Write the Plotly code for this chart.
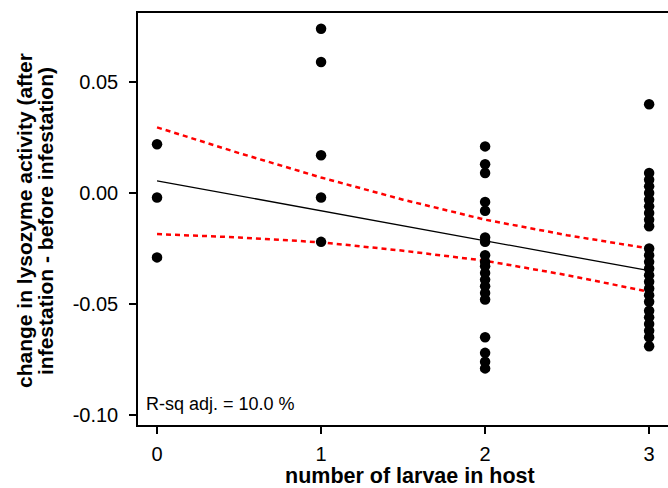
import plotly.graph_objects as go

# data
x_pts = [0, 0, 0,
         1, 1, 1, 1, 1,
         2, 2, 2, 2, 2, 2, 2, 2, 2, 2, 2, 2, 2, 2, 2, 2, 2, 2, 2,
         3, 3, 3, 3, 3, 3, 3, 3, 3, 3, 3, 3, 3, 3, 3, 3, 3, 3, 3, 3, 3, 3, 3, 3, 3]
y_pts = [0.022, -0.002, -0.029,
         0.074, 0.059, 0.017, -0.002, -0.022,
         0.021, 0.013, 0.009, -0.004, -0.008, -0.020, -0.022, -0.028, -0.031, -0.033,
         -0.036, -0.039, -0.042, -0.045, -0.048, -0.065, -0.072, -0.076, -0.079,
         0.040, 0.009, 0.006, 0.003, 0.000, -0.003, -0.006, -0.009, -0.012, -0.015,
         -0.025, -0.028, -0.031, -0.034, -0.037, -0.040, -0.043, -0.046, -0.049,
         -0.053, -0.056, -0.059, -0.062, -0.065, -0.069, -0.095]

fit_x = [0, 3]
fit_y = [0.0055, -0.0350]

ci_x = [0, 0.5, 1, 1.5, 2, 2.5, 3]
ci_upper = [0.0296, 0.0180, 0.0070, -0.0030, -0.0120, -0.0190, -0.0250]
ci_lower = [-0.0185, -0.0200, -0.0222, -0.0260, -0.0305, -0.0370, -0.0445]

x_ticks = [0, 1, 2, 3]
y_ticks = [0.05, 0.00, -0.05, -0.10]
y_tick_labels = ["0.05", "0.00", "-0.05", "-0.10"]

font = "Liberation Sans, Arial, sans-serif"
W, H = 668, 488
L, R, T, B = 138, 0, 13, 63
pw = W - L - R
ph = H - T - B


def px_x(p):
    return (p - L) / pw


def px_y(p):
    return (H - B - p) / ph


fig = go.Figure()
fig.add_trace(go.Scatter(x=ci_x, y=ci_upper, mode="lines",
                         line=dict(color="#ff0000", width=2.5, dash="5px,4px"),
                         hoverinfo="skip"))
fig.add_trace(go.Scatter(x=ci_x, y=ci_lower, mode="lines",
                         line=dict(color="#ff0000", width=2.5, dash="5px,4px"),
                         hoverinfo="skip"))
fig.add_trace(go.Scatter(x=fit_x, y=fit_y, mode="lines",
                         line=dict(color="black", width=1.3)))
fig.add_trace(go.Scatter(x=x_pts, y=y_pts, mode="markers",
                         marker=dict(color="black", size=10.5, symbol="circle")))

fig.update_layout(
    width=W, height=H,
    margin=dict(l=L, r=R, t=T, b=B),
    plot_bgcolor="white", paper_bgcolor="white",
    showlegend=False,
    font=dict(family=font, color="black"),
    xaxis=dict(range=[-0.116, 3.115], tickvals=x_ticks, ticktext=[str(v) for v in x_ticks],
               showgrid=False, zeroline=False, showline=True, linecolor="black",
               linewidth=1.5, mirror=True, ticks="outside", ticklen=7, tickwidth=1.5,
               tickcolor="black", tickfont=dict(size=20), automargin=False,
               ticklabelstandoff=3),
    yaxis=dict(range=[-0.1045, 0.0811], tickvals=y_ticks, ticktext=y_tick_labels,
               showgrid=False, zeroline=False, showline=True, linecolor="black",
               linewidth=1.5, mirror=True, ticks="outside", ticklen=7, tickwidth=1.5,
               tickcolor="black", tickfont=dict(size=20), automargin=False,
               ticklabelstandoff=7),
    annotations=[
        dict(text="<b>change in lysozyme activity (after</b>",
             xref="paper", yref="paper", x=px_x(24), y=px_y(221), textangle=-90,
             showarrow=False, font=dict(size=21), xanchor="center", yanchor="middle"),
        dict(text="<b>infestation - before infestation)</b>",
             xref="paper", yref="paper", x=px_x(45), y=px_y(221), textangle=-90,
             showarrow=False, font=dict(size=21), xanchor="center", yanchor="middle"),
        dict(text="<b>number of larvae in host</b>",
             xref="paper", yref="paper", x=px_x(410), y=px_y(476),
             showarrow=False, font=dict(size=21.5), xanchor="center", yanchor="middle"),
        dict(text="R-sq adj. = 10.0 %", xref="paper", yref="paper",
             x=px_x(144), y=px_y(404), xanchor="left", yanchor="middle",
             showarrow=False, font=dict(size=18)),
    ],
)

fig.write_html("out.html", config={"displayModeBar": False},
               post_script="document.body.style.margin='0';")
